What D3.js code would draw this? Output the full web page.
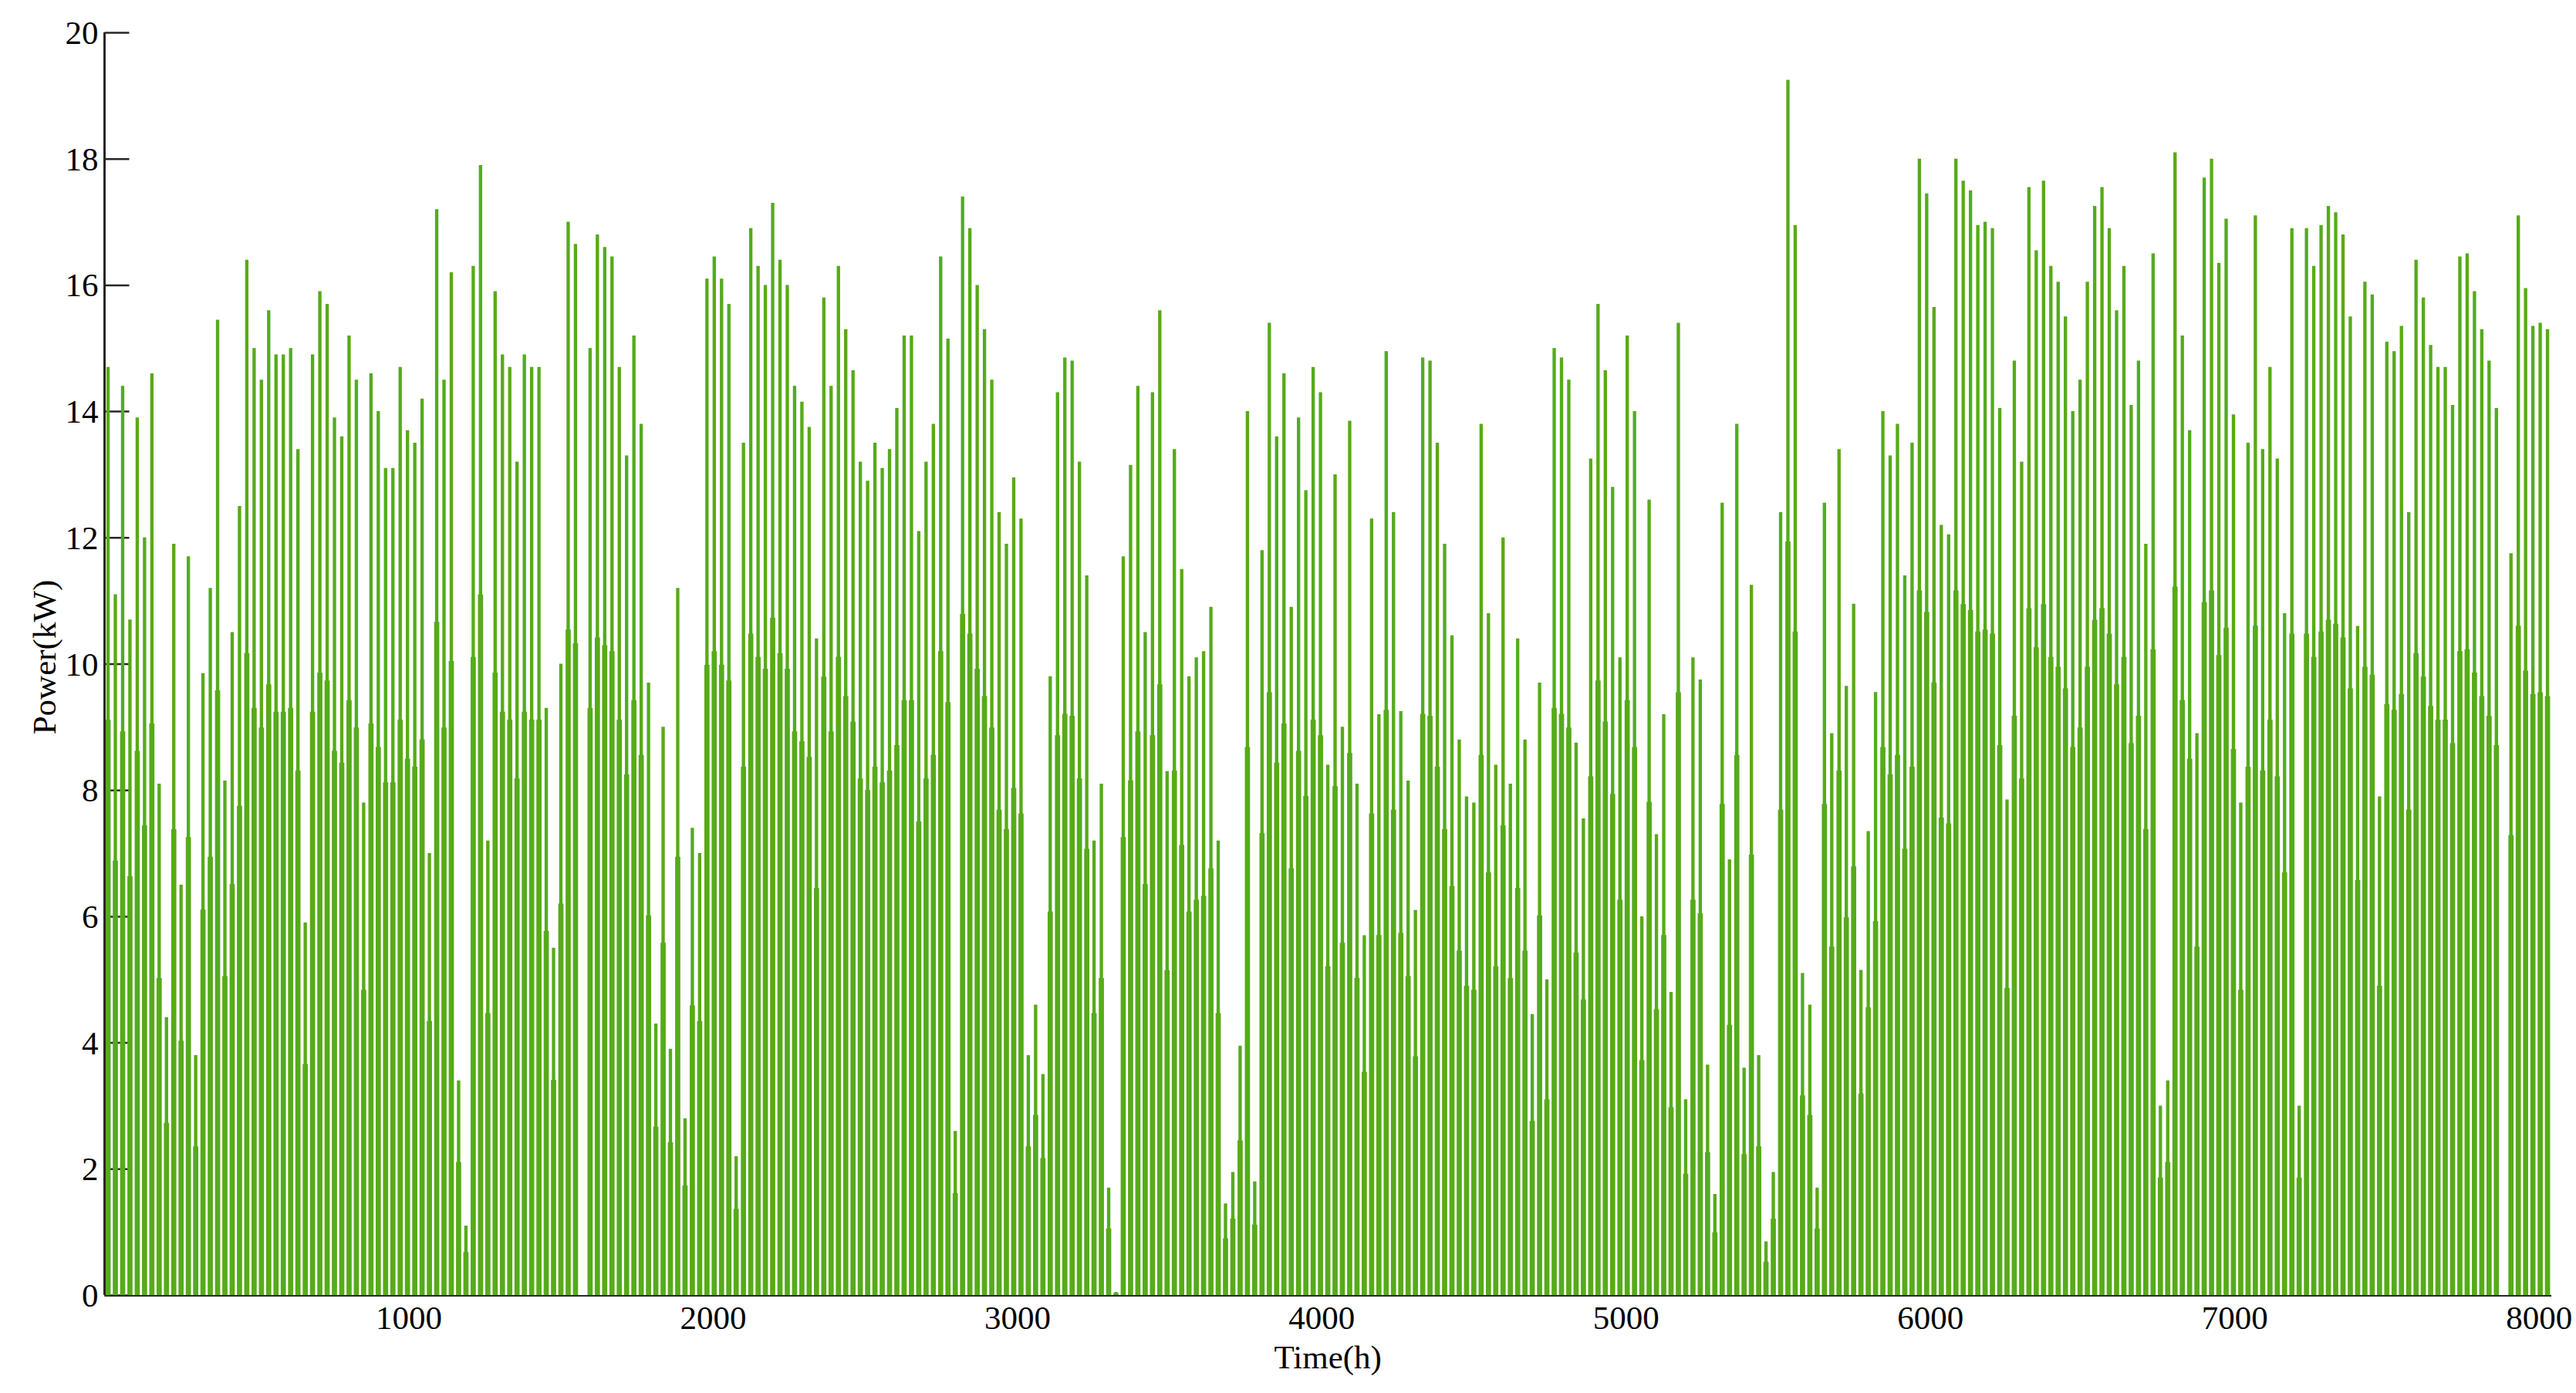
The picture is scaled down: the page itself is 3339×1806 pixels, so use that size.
<!DOCTYPE html>
<html>
<head>
<meta charset="utf-8">
<script src="https://cdn.jsdelivr.net/npm/d3@7"></script>
<style>
  html, body { margin: 0; padding: 0; background: #fff; }
  text { font-family: "Liberation Serif", "Times New Roman", serif; fill: #000; }
</style>
</head>
<body>
<svg id="chart" width="3339" height="1806"></svg>
<script>
// Daily peak power (kW), one value per day (335 days)
const dailyPeak = [
  14.7, 11.1, 14.4, 10.7, 13.9, 12.0, 14.6, 8.1, 4.4, 11.9,
  6.5, 11.7, 3.8, 9.85, 11.2, 15.45, 8.15, 10.5, 12.5, 16.4,
  15.0, 14.5, 15.6, 14.9, 14.9, 15.0, 13.4, 5.9, 14.9, 15.9,
  15.7, 13.9, 13.6, 15.2, 14.5, 7.8, 14.6, 14.0, 13.1, 13.1,
  14.7, 13.7, 13.5, 14.2, 7.0, 17.2, 14.5, 16.2, 3.4, 1.1,
  16.3, 17.9, 7.2, 15.9, 14.9, 14.7, 13.2, 14.9, 14.7, 14.7,
  9.3, 5.5, 10.0, 17.0, 16.65, 0.0, 15.0, 16.8, 16.6, 16.45,
  14.7, 13.3, 15.2, 13.8, 9.7, 4.3, 9.0, 3.9, 11.2, 2.8,
  7.4, 7.0, 16.1, 16.45, 16.1, 15.7, 2.2, 13.5, 16.9, 16.3,
  16.0, 17.3, 16.4, 16.0, 14.4, 14.15, 13.75, 10.4, 15.8, 14.4,
  16.3, 15.3, 14.65, 13.2, 12.9, 13.5, 13.1, 13.4, 14.05, 15.2,
  15.2, 12.1, 13.2, 13.8, 16.45, 15.15, 2.6, 17.4, 16.9, 16.0,
  15.3, 14.5, 12.4, 11.9, 12.95, 12.3, 3.8, 4.6, 3.5, 9.8,
  14.3, 14.85, 14.8, 13.2, 11.4, 7.2, 8.1, 1.7, 0.05, 11.7,
  13.15, 14.4, 10.5, 14.3, 15.6, 8.3, 13.4, 11.5, 9.8, 10.1,
  10.2, 10.9, 7.2, 1.45, 1.95, 3.95, 14.0, 1.8, 11.8, 15.4,
  13.6, 14.6, 10.9, 13.9, 12.75, 14.7, 14.3, 8.4, 13.0, 9.0,
  13.85, 8.1, 5.7, 12.3, 9.2, 14.95, 12.4, 9.25, 8.15, 6.1,
  14.85, 14.8, 13.5, 11.9, 10.45, 8.8, 7.9, 7.8, 13.8, 10.8,
  8.4, 12.0, 8.1, 10.4, 8.8, 4.45, 9.7, 5.0, 15.0, 14.85,
  14.5, 8.75, 7.55, 13.25, 15.7, 14.65, 12.8, 10.1, 15.2, 14.0,
  6.0, 12.6, 7.3, 9.2, 4.8, 15.4, 3.1, 10.1, 9.75, 3.65,
  1.6, 12.55, 6.9, 13.8, 3.6, 11.25, 3.8, 0.85, 1.95, 12.4,
  19.25, 16.95, 5.1, 4.6, 1.7, 12.55, 8.9, 13.4, 9.65, 10.95,
  5.15, 7.35, 9.55, 14.0, 13.3, 13.8, 11.4, 13.5, 18.0, 17.45,
  15.65, 12.2, 12.05, 18.0, 17.65, 17.5, 16.95, 17.0, 16.9, 14.05,
  7.85, 14.8, 13.2, 17.55, 16.55, 17.65, 16.3, 16.05, 15.5, 14.0,
  14.5, 16.05, 17.25, 17.55, 16.9, 15.6, 16.3, 14.1, 14.8, 11.9,
  16.5, 3.0, 3.4, 18.1, 15.2, 13.7, 8.9, 17.7, 18.0, 16.35,
  17.05, 13.95, 7.8, 13.5, 17.1, 13.4, 14.7, 13.25, 10.8, 16.9,
  3.0, 16.9, 16.3, 16.95, 17.25, 17.15, 16.8, 15.5, 10.6, 16.05,
  15.85, 7.9, 15.1, 14.95, 15.35, 12.4, 16.4, 15.8, 15.05, 14.7,
  14.7, 14.1, 16.45, 16.5, 15.9, 15.3, 14.8, 14.05, 0.0, 11.75,
  17.1, 15.95, 15.35, 15.4, 15.3
];
const xTicks = [1000, 2000, 3000, 4000, 5000, 6000, 7000, 8000];
const yTicks = [0, 2, 4, 6, 8, 10, 12, 14, 16, 18, 20];
const hoursPerDay = 24;
const totalHours = dailyPeak.length * hoursPerDay;

const svg = d3.select("#chart");
const margin = { left: 135.5, right: 3339 - 3307, top: 42, bottom: 1806 - 1679 };
const W = 3339, H = 1806;

const x = d3.scaleLinear().domain([0, totalHours]).range([margin.left, W - margin.right]);
const y = d3.scaleLinear().domain([0, 20]).range([H - margin.bottom, margin.top]);

const green = "#56ab19";
const axisColor = "#262626";

const yAxis = d3.axisRight(y).tickValues(yTicks).tickSize(32).tickFormat("");
const yg = svg.append("g").attr("transform", `translate(${margin.left},0)`).call(yAxis);
yg.select(".domain").remove();
yg.selectAll(".tick line").attr("stroke", axisColor).attr("stroke-width", 2.5);

// daily spikes: a stepped spike glyph per day (wider body, narrow top)
const line = d3.line();
const spike = (d, i) => {
  const c = i * hoursPerDay + 11.5;
  const body = d * 0.62;
  return line([
    [x(c - 8.5), y(0)], [x(c - 8.5), y(body)], [x(c - 5.5), y(body)],
    [x(c - 5.5), y(d)], [x(c + 5.5), y(d)], [x(c + 5.5), y(body)],
    [x(c + 8.5), y(body)], [x(c + 8.5), y(0)]
  ]) + "Z";
};
svg.append("g").selectAll("path.day")
  .data(dailyPeak)
  .join("path")
  .attr("class", "day")
  .attr("d", spike)
  .attr("fill", green);

svg.append("line")
  .attr("x1", margin.left).attr("x2", margin.left)
  .attr("y1", y(20)).attr("y2", y(0))
  .attr("stroke", axisColor).attr("stroke-width", 3);
svg.append("line")
  .attr("x1", margin.left).attr("x2", W - margin.right)
  .attr("y1", y(0) + 1).attr("y2", y(0) + 1)
  .attr("stroke", axisColor).attr("stroke-width", 2);

const fontSize = 43;
svg.selectAll("text.ylab")
  .data(yTicks)
  .join("text")
  .attr("class", "ylab")
  .attr("x", margin.left - 8)
  .attr("y", d => y(d))
  .attr("dy", "0.35em")
  .attr("text-anchor", "end")
  .attr("font-size", fontSize)
  .text(d => d);

svg.selectAll("text.xlab")
  .data(xTicks)
  .join("text")
  .attr("class", "xlab")
  .attr("x", d => x(d))
  .attr("y", y(0) + 44)
  .attr("text-anchor", "middle")
  .attr("font-size", fontSize)
  .text(d => d);

svg.append("text")
  .attr("x", (margin.left + W - margin.right) / 2)
  .attr("y", 1774)
  .attr("text-anchor", "middle")
  .attr("font-size", fontSize)
  .text("Time(h)");

svg.append("text")
  .attr("transform", `translate(72,852) rotate(-90)`)
  .attr("text-anchor", "middle")
  .attr("font-size", fontSize)
  .text("Power(kW)");
</script>
</body>
</html>
